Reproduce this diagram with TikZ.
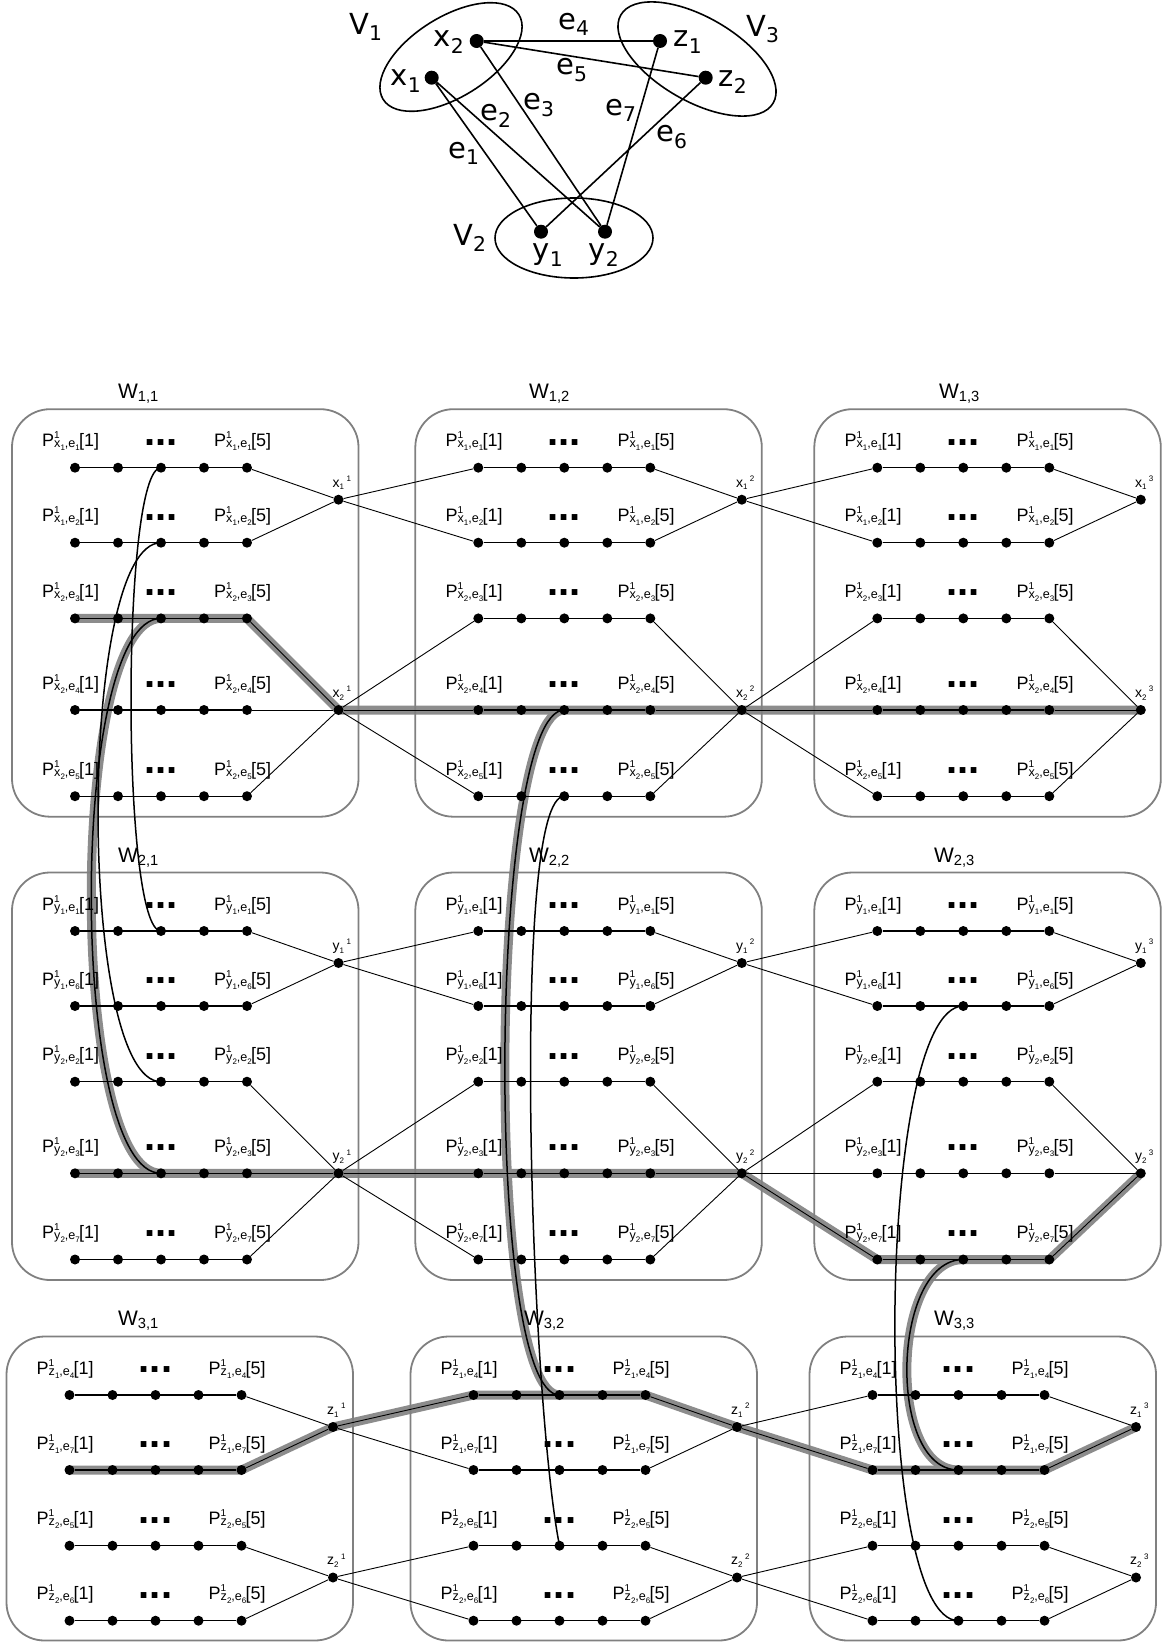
\documentclass[tikz,border=0pt]{standalone}
\usepackage{fontspec}
\setmainfont{Liberation Sans}
\newfontfamily\graphfont{DejaVu Sans}
\usepackage{tikz}
\usetikzlibrary{calc}
\pgfdeclarelayer{bg}
\pgfsetlayers{bg,main}

\tikzset{
  dot/.style={circle, fill=black, inner sep=0pt, minimum size=10pt},
  vtx/.style={circle, fill=black, inner sep=0pt, minimum size=14pt},
  wbox/.style={draw=black!50, line width=1.8pt, rounded corners=38pt},
  pathline/.style={line width=1.4pt},
  link/.style={line width=0.9pt},
  lift/.style={line width=1.5pt},
  hilite/.style={line width=9pt, draw=black!45, line join=round},
  edge/.style={line width=1.6pt},
  plabel/.style={anchor=base west, inner sep=0pt, font=\fontsize{18}{20}\selectfont},
  ellip/.style={anchor=base, inner sep=0pt, text height=6pt, text depth=0pt, font=\fontsize{40}{40}\selectfont\bfseries},
  hlabel/.style={anchor=base west, inner sep=0pt, font=\fontsize{14}{16}\selectfont},
  wlabel/.style={anchor=base, inner sep=0pt, font=\fontsize{21}{24}\selectfont},
  glabel/.style={inner sep=0pt, font=\graphfont\fontsize{29}{32}\selectfont},
}

% P^1_{v_i,e_k}[n]
\newcommand{\plab}[4]{P\rlap{\raisebox{8pt}{\fontsize{10}{10}\selectfont 1}}\makebox[25pt][l]{\raisebox{-1pt}{\fontsize{12.6}{13}\selectfont #1\raisebox{-3pt}{\fontsize{8}{8}\selectfont #2},e\raisebox{-3pt}{\fontsize{8}{8}\selectfont #3}}}[#4]}
% v_i^j
\newcommand{\hlab}[3]{#1\raisebox{-2.7pt}{\fontsize{8}{8}\selectfont #2}\hspace{2.5pt}\raisebox{5.6pt}{\fontsize{8}{8}\selectfont #3}}

% one gadget W_{i,j}: #3 first dot x, #4 first row y, #5 vertex letter,
% #6 rows (vertex index/edge index/row offset), #7 box height, #8 second hub offset
\newcommand{\gadget}[8]{%
  \draw[wbox] (#3-63,#4-58.5) rectangle (#3+283.5,#4-58.5+#7);
  \node[dot] (h#1#2-1) at (#3+263.5,#4+32) {};
  \node[dot] (h#1#2-2) at (#3+263.5,#4+#8) {};
  \node[hlabel] (l#1#2-1) at (#3+257.5,#4+19.3) {\hlab{#5}{1}{#2}};
  \node[hlabel] (l#1#2-2) at (#3+257.5,#4+#8-12.7) {\hlab{#5}{2}{#2}};
  \foreach \vi/\ei/\dy [count=\rr] in {#6} {
    \foreach \k in {1,...,5}
      \node[dot] (p#1#2-\rr-\k) at (#3+43*\k-43,#4+\dy) {};
    \draw[pathline] (p#1#2-\rr-1) -- (p#1#2-\rr-5);
    \draw[link] (p#1#2-\rr-5) -- (h#1#2-\vi);
    \ifnum#2>1\relax
      \pgfmathtruncatemacro\jp{#2-1}
      \draw[link] (h#1\jp-\vi) -- (p#1#2-\rr-1);
    \fi
    \node[plabel] (a#1#2-\rr) at (#3-33,#4+\dy-21) {\plab{#5}{\vi}{\ei}{1}};
    \node[plabel] (b#1#2-\rr) at (#3+139,#4+\dy-21) {\plab{#5}{\vi}{\ei}{5}};
    \node[ellip] (c#1#2-\rr) at (#3+86,#4+\dy-22.7) {...};
  }
}

\begin{document}
\begin{tikzpicture}[x=1pt, y=-1pt]
\useasboundingbox (0,0) rectangle (1163,1643);

% graph G
\draw[edge, rotate around={32:(451,57)}] (451,57) ellipse [x radius=80pt, y radius=40pt];
\draw[edge, rotate around={-30:(697,59)}] (697,59) ellipse [x radius=88pt, y radius=42pt];
\draw[edge] (574,238) ellipse [x radius=79pt, y radius=40pt];
\node[vtx] (x1) at (431.7,77.7) {};
\node[vtx] (x2) at (476.7,41) {};
\node[vtx] (z1) at (660,41) {};
\node[vtx] (z2) at (705.7,77.7) {};
\node[vtx] (y1) at (541,231.7) {};
\node[vtx] (y2) at (605,231.7) {};
\draw[edge] (x1) -- (y1) (x1) -- (y2) (x2) -- (y2) (x2) -- (z1)
  (x2) -- (z2) (z2) -- (y1) (z1) -- (y2);
\node[glabel] (V1) at (366,27) {V\textsubscript{1}};
\node[glabel] (V2) at (470,238) {V\textsubscript{2}};
\node[glabel] (V3) at (763,29) {V\textsubscript{3}};
\node[glabel] (x1l) at (406,81) {x\textsubscript{1}};
\node[glabel] (x2l) at (449,42) {x\textsubscript{2}};
\node[glabel] (z1l) at (688,42) {z\textsubscript{1}};
\node[glabel] (z2l) at (733,82) {z\textsubscript{2}};
\node[glabel] (y1l) at (548,255) {y\textsubscript{1}};
\node[glabel] (y2l) at (604,255) {y\textsubscript{2}};
\node[glabel] (e1l) at (464,153) {e\textsubscript{1}};
\node[glabel] (e2l) at (496,116) {e\textsubscript{2}};
\node[glabel] (e3l) at (539,105) {e\textsubscript{3}};
\node[glabel] (e4l) at (574,24) {e\textsubscript{4}};
\node[glabel] (e5l) at (572,70) {e\textsubscript{5}};
\node[glabel] (e6l) at (672,137) {e\textsubscript{6}};
\node[glabel] (e7l) at (621,110) {e\textsubscript{7}};

% gadgets
\gadget{1}{1}{75}{467.7}{x}{1/1/0,1/2/75,2/3/150.7,2/4/242.3,2/5/328.5}{407.5}{242.3}
\gadget{1}{2}{478.3}{467.7}{x}{1/1/0,1/2/75,2/3/150.7,2/4/242.3,2/5/328.5}{407.5}{242.3}
\gadget{1}{3}{877.3}{467.7}{x}{1/1/0,1/2/75,2/3/150.7,2/4/242.3,2/5/328.5}{407.5}{242.3}
\gadget{2}{1}{75}{931}{y}{1/1/0,1/6/75,2/2/150.7,2/3/242.3,2/7/328.5}{407.5}{242.3}
\gadget{2}{2}{478.3}{931}{y}{1/1/0,1/6/75,2/2/150.7,2/3/242.3,2/7/328.5}{407.5}{242.3}
\gadget{2}{3}{877.3}{931}{y}{1/1/0,1/6/75,2/2/150.7,2/3/242.3,2/7/328.5}{407.5}{242.3}
\gadget{3}{1}{69.5}{1395}{z}{1/4/0,1/7/75,2/5/150.7,2/6/225.7}{304}{182.5}
\gadget{3}{2}{473.5}{1395}{z}{1/4/0,1/7/75,2/5/150.7,2/6/225.7}{304}{182.5}
\gadget{3}{3}{872.5}{1395}{z}{1/4/0,1/7/75,2/5/150.7,2/6/225.7}{304}{182.5}

\node[wlabel] (w11) at (138.5,398.5) {W\textsubscript{1,1}};
\node[wlabel] (w12) at (549.5,398.5) {W\textsubscript{1,2}};
\node[wlabel] (w13) at (959.5,398.5) {W\textsubscript{1,3}};
\node[wlabel] (w21) at (138.5,862.5) {W\textsubscript{2,1}};
\node[wlabel] (w22) at (549.5,862.5) {W\textsubscript{2,2}};
\node[wlabel] (w23) at (954.5,862.5) {W\textsubscript{2,3}};
\node[wlabel] (w31) at (138.5,1325) {W\textsubscript{3,1}};
\node[wlabel] (w32) at (544.5,1325) {W\textsubscript{3,2}};
\node[wlabel] (w33) at (954.5,1325) {W\textsubscript{3,3}};

% chosen walk
\begin{pgfonlayer}{bg}
  \draw[hilite] (p11-3-1.center) -- (p11-3-5.center) -- (h11-2.center) -- (h13-2.center);
  \draw[hilite] (p21-4-1.center) -- (h21-2.center) -- (h22-2.center) -- (p23-5-1.center)
    -- (p23-5-5.center) -- (h23-2.center);
  \draw[hilite] (p31-2-1.center) -- (p31-2-5.center) -- (h31-1.center) -- (p32-1-1.center)
    -- (p32-1-5.center) -- (h32-1.center) -- (p33-2-1.center) -- (p33-2-5.center) -- (h33-1.center);
  \draw[hilite] (p11-3-3.center) .. controls +(-93,0) and +(-93,0) .. (p21-4-3.center);
  \draw[hilite] (p12-4-3.center) .. controls +(-76,0) and +(-76,0) .. (p32-1-3.center);
  \draw[hilite] (p23-5-3.center) .. controls +(-72,0) and +(-72,0) .. (p33-2-3.center);
\end{pgfonlayer}

% edge paths between gadgets
\draw[lift] (p11-1-3.center) .. controls +(-40,0) and +(-40,0) .. (p21-1-3.center);
\draw[lift] (p11-2-3.center) .. controls +(-84,0) and +(-84,0) .. (p21-3-3.center);
\draw[lift] (p11-3-3.center) .. controls +(-93,0) and +(-93,0) .. (p21-4-3.center);
\draw[lift] (p12-4-3.center) .. controls +(-76,0) and +(-76,0) .. (p32-1-3.center);
\draw[lift] (p12-5-3.center) .. controls +(-54,0) and +(-29,-146) .. (p32-3-3.center);
\draw[lift] (p23-2-3.center) .. controls +(-88,0) and +(-88,0) .. (p33-4-3.center);
\draw[lift] (p23-5-3.center) .. controls +(-72,0) and +(-72,0) .. (p33-2-3.center);
\end{tikzpicture}
\end{document}
